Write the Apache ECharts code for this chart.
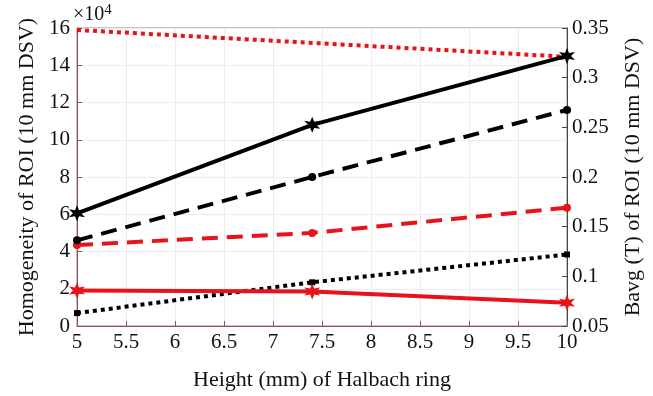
<!DOCTYPE html>
<html>
<head>
<meta charset="utf-8">
<script src="https://cdn.jsdelivr.net/npm/echarts@6/dist/echarts.min.js"></script>
<style>
  html, body { margin: 0; padding: 0; background: #fff; }
  #chart { width: 653px; height: 396px; }
</style>
</head>
<body>
<div id="chart"></div>
<script>
// Halbach ring height (mm)
const heights = [5, 7.4, 10];

// Homogeneity of ROI (×10^4), left axis
const homogBlackSolid = [6.05, 10.8, 14.5];
const homogBlackDashed = [4.6, 8.0, 11.6];
const homogRedSolid = [1.9, 1.85, 1.25];
const homogRedDashed = [4.35, 5.0, 6.35];

// Bavg (T) of ROI, right axis
const bavgRedDotted = [0.348, 0.335, 0.321];
const bavgBlackDotted = [0.063, 0.094, 0.122];

// Axis ticks
const xTicks = { min: 5, max: 10, step: 0.5 };
const leftTicks = { min: 0, max: 16, step: 2 };
const rightTicks = { min: 0.05, max: 0.35, step: 0.05 };

const RED = '#e8121a';
const BLACK = '#000000';
const FONT = 'Liberation Serif';

// six-pointed star marker
function hexagramPath() {
  const pts = [];
  for (let i = 0; i < 12; i++) {
    const r = i % 2 === 0 ? 50 : 22;
    const a = Math.PI / 2 + i * Math.PI / 6;
    pts.push((50 + r * Math.cos(a)).toFixed(2) + ',' + (50 - r * Math.sin(a)).toFixed(2));
  }
  return 'path://M' + pts.join('L') + 'Z';
}
const STAR = hexagramPath();

function pairs(xs, ys) {
  return xs.map((x, i) => [x, ys[i]]);
}

function lineSeries(name, data, color, type, yIndex, symbol, symbolSize, showSymbol) {
  return {
    name: name,
    type: 'line',
    yAxisIndex: yIndex,
    data: data,
    symbol: symbol,
    symbolSize: symbolSize,
    showSymbol: showSymbol,
    lineStyle: { color: color, width: 4, type: type },
    itemStyle: { color: color },
    animation: false
  };
}

const chart = echarts.init(document.getElementById('chart'), null, { renderer: 'canvas' });

const axisLabel = { color: '#111', fontFamily: FONT, fontSize: 21 };
const nameStyle = { color: '#111', fontFamily: FONT, fontSize: 22 };

chart.setOption({
  animation: false,
  backgroundColor: '#fff',
  grid: {
    left: 77, right: 86, top: 28, bottom: 67,
    show: true, borderColor: '#8a8a8a', borderWidth: 1, backgroundColor: 'transparent'
  },
  xAxis: {
    type: 'value',
    min: xTicks.min, max: xTicks.max, interval: xTicks.step,
    name: 'Height (mm) of Halbach ring',
    nameLocation: 'middle', nameGap: 43,
    nameTextStyle: nameStyle,
    axisLine: { show: true, lineStyle: { color: '#9a4d4a', width: 1 } },
    axisTick: { show: true, inside: true, length: 5, lineStyle: { color: '#9a4d4a' } },
    axisLabel: Object.assign({ margin: 6 }, axisLabel),
    splitLine: { show: true, lineStyle: { color: '#ececec', width: 1 } }
  },
  yAxis: [
    {
      type: 'value',
      position: 'left',
      min: leftTicks.min, max: leftTicks.max, interval: leftTicks.step,
      name: 'Homogeneity of ROI (10 mm DSV)',
      nameLocation: 'middle', nameGap: 34, nameRotate: 90,
      nameTextStyle: nameStyle,
      axisLine: { show: true, lineStyle: { color: '#9a4d4a', width: 1 } },
      axisTick: { show: true, inside: true, length: 5, lineStyle: { color: '#9a4d4a' } },
      axisLabel: Object.assign({ margin: 7 }, axisLabel),
      splitLine: { show: true, lineStyle: { color: '#ececec', width: 1 } }
    },
    {
      type: 'value',
      position: 'right',
      min: rightTicks.min, max: rightTicks.max, interval: rightTicks.step,
      name: 'Bavg (T) of ROI (10 mm DSV)',
      nameLocation: 'middle', nameGap: 55, nameRotate: 90,
      nameTextStyle: nameStyle,
      axisLine: { show: true, lineStyle: { color: '#444', width: 1 } },
      axisTick: { show: true, inside: true, length: 5, lineStyle: { color: '#444' } },
      axisLabel: Object.assign({ margin: 5 }, axisLabel),
      splitLine: { show: false }
    }
  ],
  graphic: [
    {
      type: 'text',
      left: 73, top: 3,
      style: {
        text: '{a|×10}{b|4}',
        rich: {
          a: { fontFamily: FONT, fontSize: 20, fill: '#111', verticalAlign: 'bottom' },
          b: { fontFamily: FONT, fontSize: 15, fill: '#111', verticalAlign: 'top', padding: [0, 0, 7, 0] }
        }
      }
    }
  ],
  series: [
    lineSeries('Bavg red dotted', pairs(heights, bavgRedDotted), RED, [4, 4], 1, 'rect', 4, false),
    lineSeries('Bavg black dotted', pairs(heights, bavgBlackDotted), BLACK, [4, 4], 1, 'rect', 6, true),
    lineSeries('Homogeneity red dashed', pairs(heights, homogRedDashed), RED, [16, 9], 0, 'circle', 8, true),
    lineSeries('Homogeneity black dashed', pairs(heights, homogBlackDashed), BLACK, [16, 9], 0, 'circle', 8, true),
    lineSeries('Homogeneity red solid', pairs(heights, homogRedSolid), RED, 'solid', 0, STAR, 16, true),
    lineSeries('Homogeneity black solid', pairs(heights, homogBlackSolid), BLACK, 'solid', 0, STAR, 16, true)
  ]
});
</script>
</body>
</html>
